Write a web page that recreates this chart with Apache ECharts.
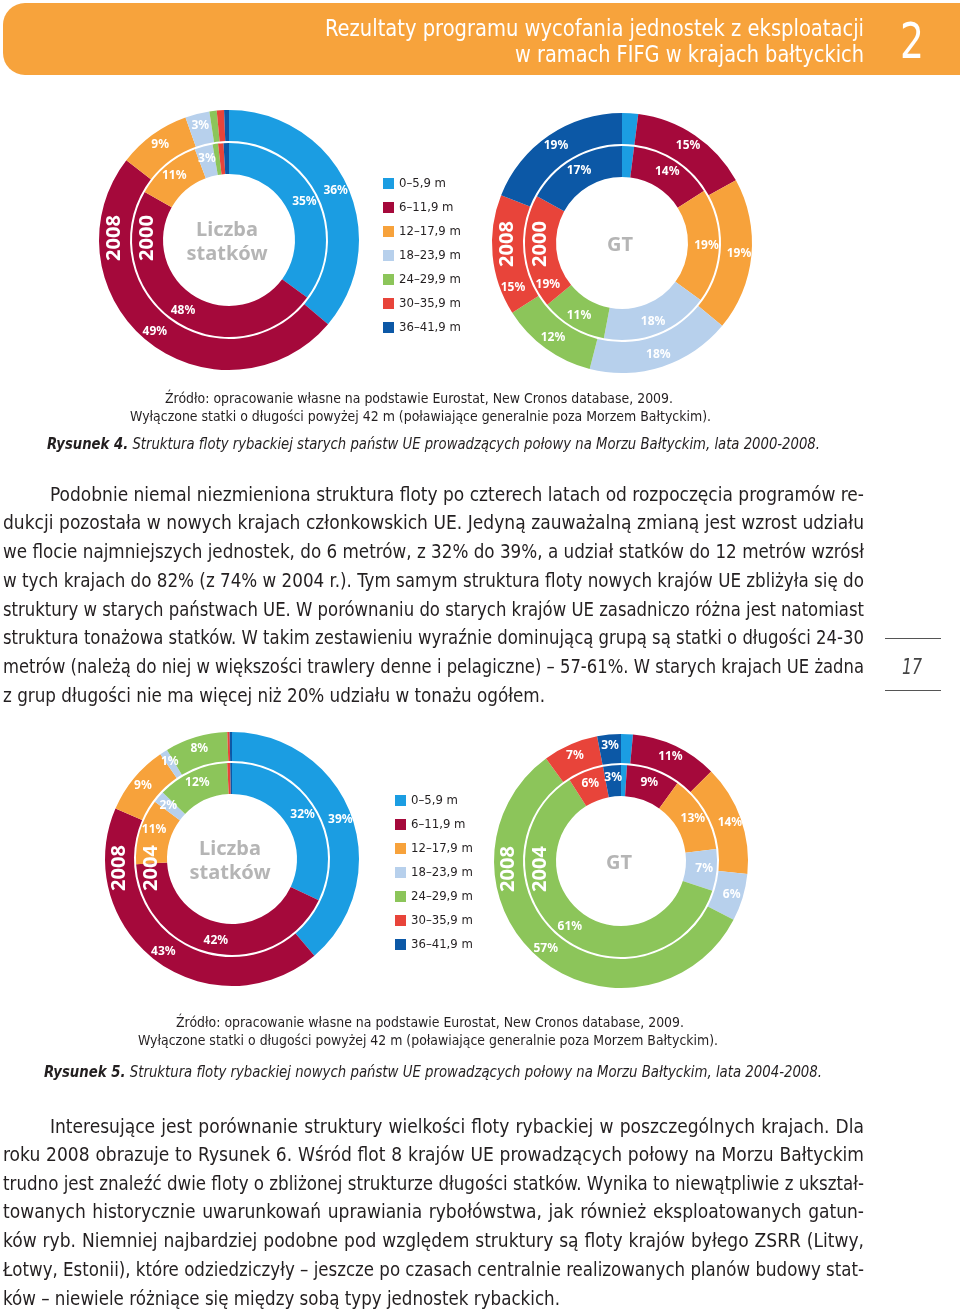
<!DOCTYPE html>
<html><head><meta charset="utf-8">
<script src="https://cdn.jsdelivr.net/npm/echarts@6/dist/echarts.min.js"></script>
<style>
html,body{margin:0;padding:0;background:#fff;}
#page{position:relative;width:960px;height:1310px;overflow:hidden;font-family:'Liberation Sans Narrow','DejaVu Sans Condensed','Open Sans',sans-serif;font-stretch:condensed;color:#231f20;}
#chart{position:absolute;left:0;top:0;width:960px;height:1310px;}
#hdr{position:absolute;left:3px;top:3px;width:990px;height:72px;background:#f7a33c;border-radius:22px;}
.ln{position:absolute;white-space:nowrap;line-height:24px;height:24px;}
.ln span{display:inline-block;white-space:nowrap;}
.rule{position:absolute;left:885px;width:56px;height:0;border-top:1.5px solid #555;}
</style></head>
<body><div id="page"><div id="hdr"></div><div id="chart"></div>
<div class="rule" style="top:638px"></div><div class="rule" style="top:690px"></div>
</div>
<script>
// ---------- chart data ----------
const categories = ['0–5,9 m','6–11,9 m','12–17,9 m','18–23,9 m','24–29,9 m','30–35,9 m','36–41,9 m'];
const colors = ['#1b9de2','#a5093b','#f7a23b','#b7d0ec','#8cc55a','#e8443a','#0c58a6'];
// Rysunek 4 – old EU states
const oldCount2008 = [36, 49, 9, 3, 0.9, 0.9, 0.6];
const oldCount2000 = [35, 48, 11, 3, 0.9, 0.9, 0.9];
const oldGT2008    = [2, 15, 19, 18, 12, 15, 19];
const oldGT2000    = [2, 14, 19, 18, 11, 19, 17];
// Rysunek 5 – new EU states
const newCount2008 = [39, 43, 9, 1, 8, 0.3, 0.3];
const newCount2004 = [32, 42, 11, 2, 12, 0.5, 0.3];
const newGT2008    = [1.5, 11, 14, 6, 57, 7, 3];
const newGT2004    = [1, 9, 13, 7, 61, 6, 3];
const yearsOld = ['2008','2000'];
const yearsNew = ['2008','2004'];
const centerCount = 'Liczba\nstatków';
const centerGT = 'GT';

const FONT = "'Liberation Sans Narrow','DejaVu Sans Condensed','Open Sans',sans-serif";
const BOLDFONT = "'Noto Sans','Open Sans',sans-serif";

function ring(center, radius, values, minLabel, nudges){
  return {
    type:'pie', center:center, radius:radius, startAngle:90, clockwise:true,
    silent:true, animation:false, avoidLabelOverlap:false,
    itemStyle:{borderWidth:0},
    label:{show:true, position:'inside', color:'#fff', fontWeight:'bold', fontSize:12, fontFamily:BOLDFONT,
      formatter:function(p){ return p.value >= minLabel ? Math.round(p.value)+'%' : ''; }},
    labelLayout:function(p){
      const n = nudges && nudges[p.dataIndex];
      return n ? {dx:n[0], dy:n[1]} : {};
    },
    labelLine:{show:false}, emphasis:{disabled:true},
    data: categories.map(function(c,i){ return {name:c, value:values[i]}; })
  };
}

const charts = [
  {c:[229,240], outer:[99,130], inner:[66,97], o:oldCount2008, i:oldCount2000, mo:1, mi:1, years:yearsOld, yOff:-2, txt:centerCount},
  {c:[622,243], outer:[99,130], inner:[66,97], o:oldGT2008, i:oldGT2000, mo:3, mi:3, years:yearsOld, yOff:1, txt:centerGT,
    nO:{5:[8,34]}, nI:{5:[10,34]}},
  {c:[232,859], outer:[98,127], inner:[65,96], o:newCount2008, i:newCount2004, mo:0.95, mi:0.95, years:yearsNew, yOff:9, txt:centerCount,
    nI:{2:[2,-5]}},
  {c:[621,861], outer:[98,127], inner:[65,96], o:newGT2008, i:newGT2004, mo:2, mi:2, years:yearsNew, yOff:8, txt:centerGT}
];

const series = [], graphic = [];
charts.forEach(function(ch){
  series.push(ring(ch.c, ch.outer, ch.o, ch.mo, ch.nO));
  series.push(ring(ch.c, ch.inner, ch.i, ch.mi, ch.nI));
  const midO = (ch.outer[0]+ch.outer[1])/2, midI = (ch.inner[0]+ch.inner[1])/2;
  [[ch.years[0], midO],[ch.years[1], midI]].forEach(function(y){
    graphic.push({type:'text', x:ch.c[0]-y[1], y:ch.c[1]+ch.yOff, rotation:Math.PI/2, z:100,
      style:{text:y[0], fill:'#fff', font:'bold 20px '+BOLDFONT, align:'center', verticalAlign:'middle'}});
  });
  graphic.push({type:'text', x:ch.c[0]-2, y:ch.c[1]+2, z:100,
    style:{text:ch.txt, fill:'#b5b5b5', font:'bold 20px '+BOLDFONT, lineHeight:24, align:'center', verticalAlign:'middle'}});
});

function legend(left, top){
  return {left:left, top:top, orient:'vertical', icon:'rect', itemWidth:11, itemHeight:11, itemGap:11,
    padding:0, selectedMode:false, data:categories,
    textStyle:{fontSize:13, color:'#231f20', fontFamily:FONT}};
}

const chart = echarts.init(document.getElementById('chart'), null, {renderer:'canvas'});
chart.setOption({
  animation:false, color:colors,
  legend:[legend(383,177), legend(395,794)],
  series:series, graphic:graphic
});

// ---------- page text ----------
const RYS4 = '<b>Rysunek 4.</b> Struktura floty rybackiej starych państw UE prowadzących połowy na Morzu Bałtyckim, lata 2000-2008.';
const RYS5 = '<b>Rysunek 5.</b> Struktura floty rybackiej nowych państw UE prowadzących połowy na Morzu Bałtyckim, lata 2004-2008.';
const SRC1 = 'Źródło: opracowanie własne na podstawie Eurostat, New Cronos database, 2009.';
const SRC2 = 'Wyłączone statki o długości powyżej 42 m (poławiające generalnie poza Morzem Bałtyckim).';
const para1 = [
 'Podobnie niemal niezmieniona struktura floty po czterech latach od rozpoczęcia programów re-',
 'dukcji pozostała w nowych krajach członkowskich UE. Jedyną zauważalną zmianą jest wzrost udziału',
 'we flocie najmniejszych jednostek, do 6 metrów, z 32% do 39%, a udział statków do 12 metrów wzrósł',
 'w tych krajach do 82% (z 74% w 2004 r.). Tym samym struktura floty nowych krajów UE zbliżyła się do',
 'struktury w starych państwach UE. W porównaniu do starych krajów UE zasadniczo różna jest natomiast',
 'struktura tonażowa statków. W takim zestawieniu wyraźnie dominującą grupą są statki o długości 24-30',
 'metrów (należą do niej w większości trawlery denne i pelagiczne) – 57-61%. W starych krajach UE żadna',
 'z grup długości nie ma więcej niż 20% udziału w tonażu ogółem.'
];
const para2 = [
 'Interesujące jest porównanie struktury wielkości floty rybackiej w poszczególnych krajach. Dla',
 'roku 2008 obrazuje to Rysunek 6. Wśród flot 8 krajów UE prowadzących połowy na Morzu Bałtyckim',
 'trudno jest znaleźć dwie floty o zbliżonej strukturze długości statków. Wynika to niewątpliwie z ukształ-',
 'towanych historycznie uwarunkowań uprawiania rybołówstwa, jak również eksploatowanych gatun-',
 'ków ryb. Niemniej najbardziej podobne pod względem struktury są floty krajów byłego ZSRR (Litwy,',
 'Łotwy, Estonii), które odziedziczyły – jeszcze po czasach centralnie realizowanych planów budowy stat-',
 'ków – niewiele różniące się między sobą typy jednostek rybackich.'
];

const page = document.getElementById('page');
function addLine(html, x, yc, w, size, mode, extra){
  const d = document.createElement('div'); d.className='ln';
  d.style.left = x+'px'; d.style.top = (yc-12)+'px'; d.style.fontSize = size+'px';
  if (extra) Object.keys(extra).forEach(function(k){ d.style[k]=extra[k]; });
  const s = document.createElement('span'); s.innerHTML = html;
  d.appendChild(s); page.appendChild(d);
  const nat = s.getBoundingClientRect().width;
  const n = (s.textContent.match(/ /g)||[]).length;
  if (mode==='justify' && nat < w && n>0){
    s.style.wordSpacing = ((w-nat)/n)+'px';
  } else {
    s.style.transformOrigin = 'left center';
    s.style.transform = 'scaleX('+(w/nat)+')';
  }
}
// header
addLine('Rezultaty programu wycofania jednostek z eksploatacji', 325, 28, 539, 23, 'scale', {color:'#fff'});
addLine('w ramach FIFG w krajach bałtyckich', 515, 54, 349, 23, 'scale', {color:'#fff'});
addLine('2', 900, 42, 24, 50, 'scale', {color:'#fff', lineHeight:'54px', height:'54px', top:'14px'});
// figure 4 captions
addLine(SRC1, 165, 398, 508, 14, 'scale');
addLine(SRC2, 130, 416, 581, 14, 'scale');
addLine(RYS4, 47, 444, 773, 15, 'scale', {fontStyle:'italic'});
// paragraph 1
const p1y = [494,522,551,580,609,637,666,695];
para1.forEach(function(t,i){
  const x = i===0 ? 50 : 3;
  const last = i===para1.length-1;
  addLine(t, x, p1y[i], last ? 542 : 864-x, 19, last ? 'scale' : 'justify');
});
// page number
addLine('17', 902, 667, 20, 22, 'scale', {fontStyle:'italic', color:'#444'});
// figure 5 captions
addLine(SRC1, 176, 1022, 508, 14, 'scale');
addLine(SRC2, 138, 1040, 580, 14, 'scale');
addLine(RYS5, 44, 1072, 778, 15, 'scale', {fontStyle:'italic'});
// paragraph 2
const p2y = [1126,1154,1183,1211,1240,1269,1298];
para2.forEach(function(t,i){
  const x = i===0 ? 50 : 3;
  const last = i===para2.length-1;
  addLine(t, x, p2y[i], last ? 557 : 864-x, 19, last ? 'scale' : 'justify');
});
</script>
</body></html>
